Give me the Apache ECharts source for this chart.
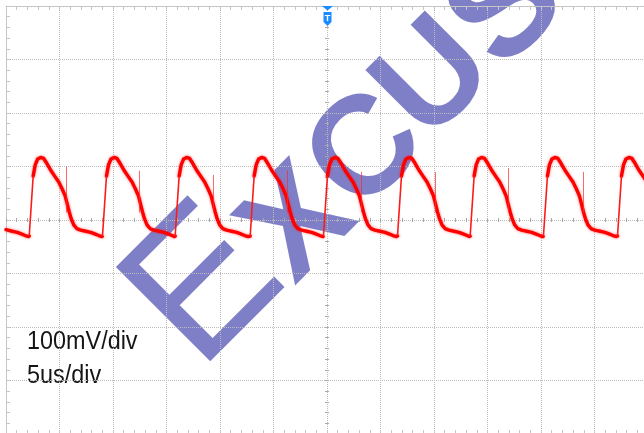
<!DOCTYPE html>
<html>
<head>
<meta charset="utf-8">
<style>
html,body{margin:0;padding:0;background:#fff;}
#chart{width:644px;height:433px;}
</style>
<script src="https://cdn.jsdelivr.net/npm/echarts@6.0.0/dist/echarts.min.js"></script>
</head>
<body>
<div id="chart"></div>
<script>
// Scope capture: CH1, 100 mV/div, 5 us/div, 12 x 8 divisions
const timeRangeUs = [0, 60];
const timeDivUs = 5;
const voltRangeMv = [-400, 400];
const voltDivMv = 100;
const triggerUs = 30;

// CH1 trace, one row per cycle
const traceUs = [
  0.00, 0.58, 1.05, 1.42, 1.80, 2.12,
  2.17, 2.54, 2.73, 2.96, 3.24, 3.52, 3.81, 4.18, 4.55, 4.93, 5.25, 5.53, 5.72, 5.91, 6.10, 6.33, 6.61, 6.98, 7.45, 7.92, 8.29, 8.67, 8.99,
  9.02, 9.39, 9.58, 9.81, 10.09, 10.37, 10.66, 11.03, 11.40, 11.78, 12.10, 12.38, 12.57, 12.76, 12.95, 13.18, 13.46, 13.83, 14.30, 14.77, 15.14, 15.52, 15.74,
  15.81, 16.18, 16.37, 16.60, 16.88, 17.16, 17.45, 17.82, 18.19, 18.57, 18.89, 19.17, 19.36, 19.55, 19.74, 19.97, 20.25, 20.62, 21.09, 21.56, 21.93, 22.31, 22.63,
  22.82, 23.19, 23.38, 23.61, 23.89, 24.17, 24.46, 24.83, 25.20, 25.58, 25.90, 26.18, 26.37, 26.56, 26.75, 26.98, 27.26, 27.63, 28.10, 28.57, 28.94, 29.32, 29.64,
  29.67, 30.04, 30.23, 30.46, 30.74, 31.02, 31.31, 31.68, 32.05, 32.43, 32.75, 33.03, 33.22, 33.41, 33.60, 33.83, 34.11, 34.48, 34.95, 35.42, 35.79, 36.17, 36.49,
  36.59, 36.96, 37.15, 37.38, 37.66, 37.94, 38.23, 38.60, 38.97, 39.35, 39.67, 39.95, 40.14, 40.33, 40.52, 40.75, 41.03, 41.40, 41.87, 42.34, 42.71, 43.09, 43.30,
  43.38, 43.75, 43.94, 44.17, 44.45, 44.73, 45.02, 45.39, 45.76, 46.14, 46.46, 46.74, 46.93, 47.12, 47.31, 47.54, 47.82, 48.19, 48.66, 49.13, 49.50, 49.88, 50.20,
  50.23, 50.60, 50.79, 51.02, 51.30, 51.58, 51.87, 52.24, 52.61, 52.99, 53.31, 53.59, 53.78, 53.97, 54.16, 54.39, 54.67, 55.04, 55.51, 55.98, 56.35, 56.73, 57.05,
  57.15, 57.52, 57.71, 57.94, 58.22, 58.50, 58.79, 59.16, 59.53, 59.91, 60.23
];
const traceMv = [
  -18, -21, -23, -26, -29, -31,
  -30, 82, 103, 114, 117, 115, 106, 93, 82, 71, 58, 45, 30, 15, 2, -9, -16, -19, -21, -23, -26, -29, -31,
  -30, 82, 103, 114, 117, 115, 106, 93, 82, 71, 58, 45, 30, 15, 2, -9, -16, -19, -21, -23, -26, -29, -31,
  -30, 82, 103, 114, 117, 115, 106, 93, 82, 71, 58, 45, 30, 15, 2, -9, -16, -19, -21, -23, -26, -29, -31,
  -30, 82, 103, 114, 117, 115, 106, 93, 82, 71, 58, 45, 30, 15, 2, -9, -16, -19, -21, -23, -26, -29, -31,
  -30, 82, 103, 114, 117, 115, 106, 93, 82, 71, 58, 45, 30, 15, 2, -9, -16, -19, -21, -23, -26, -29, -31,
  -30, 82, 103, 114, 117, 115, 106, 93, 82, 71, 58, 45, 30, 15, 2, -9, -16, -19, -21, -23, -26, -29, -31,
  -30, 82, 103, 114, 117, 115, 106, 93, 82, 71, 58, 45, 30, 15, 2, -9, -16, -19, -21, -23, -26, -29, -31,
  -30, 82, 103, 114, 117, 115, 106, 93, 82, 71, 58, 45, 30, 15, 2, -9, -16, -19, -21, -23, -26, -29, -31,
  -30, 82, 103, 114, 117, 115, 106, 93, 82, 71, 58
];

// Switching spikes on the falling slope
const spikeUs = [5.58, 12.46, 19.37, 26.23, 33.15, 40.09, 46.94, 53.88];
const spikeTopMv = [100, 92, 84, 93, 90, 90, 97, 90];
const spikeLowMv = [14, 14, 16, 14, 15, 14, 15, 14];

const scaleLabels = ['100mV/div', '5us/div'];
const watermarkLetters = ['E', 'X', 'C', 'U', 'S'];

const chart = echarts.init(document.getElementById('chart'), null, { renderer: 'canvas' });

const gridRect = { left: 6, top: 6, width: 642, height: 428, show: false, containLabel: false, outerBoundsMode: 'none' };
const borderColor = '#c6c6c6';
const gridLineColor = '#bdbdbd';
const centerTickColor = '#a9a9a9';

function borderAxis(gridIndex, position, withSplit, range, step) {
  return {
    type: 'value', gridIndex, position, min: range[0], max: range[1], interval: step,
    axisLine: { show: true, onZero: false, lineStyle: { color: borderColor, width: 1 } },
    axisTick: { show: true, inside: true, length: 4, lineStyle: { color: borderColor } },
    minorTick: { show: true, splitNumber: 5, length: 4, lineStyle: { color: borderColor } },
    axisLabel: { show: false },
    splitLine: { show: withSplit, lineStyle: { type: 'dotted', color: gridLineColor, width: 1 } },
    minorSplitLine: { show: false }
  };
}
function centerAxis(gridIndex, range, step, inside) {
  return {
    type: 'value', gridIndex, min: range[0], max: range[1], interval: step,
    axisLine: { show: false, onZero: true },
    axisTick: { show: true, inside, length: 2, lineStyle: { color: centerTickColor } },
    minorTick: { show: true, splitNumber: 5, length: 2, lineStyle: { color: centerTickColor } },
    axisLabel: { show: false },
    splitLine: { show: false }
  };
}

const halfSpan = (timeRangeUs[1] - timeRangeUs[0]) / 2;
const centeredTime = [-halfSpan, halfSpan];

// Split the trace: fast rising edges are drawn thin, everything else with the wide persistence stroke
const bodyData = [];
const edgeData = [];
for (let i = 0; i < traceUs.length; i++) {
  const pt = [traceUs[i], traceMv[i]];
  const isEdgeStart = i + 1 < traceUs.length && traceMv[i + 1] - traceMv[i] > 80;
  bodyData.push(pt);
  if (isEdgeStart) {
    const next = [traceUs[i + 1], traceMv[i + 1]];
    bodyData.push([(pt[0] + next[0]) / 2, null]);
    edgeData.push(pt, next, [(pt[0] + next[0]) / 2 + 0.01, null]);
  }
}
const spikeData = spikeUs.map((t, i) => [t, spikeLowMv[i], spikeTopMv[i]]);

// watermark: a full-size initial followed by small capitals, laid on a 45 degree line
const markCentres = [[207, 289], [300, 226], [368, 153], [436, 81], [508, 10]];
const markFonts = [
  '194px "Liberation Sans"',
  'bold 140px "Liberation Sans"',
  'bold 140px "Liberation Sans"',
  'bold 140px "Liberation Sans"',
  'bold 146px "Liberation Sans"'
];

const option = {
  backgroundColor: '#ffffff',
  animation: false,
  grid: [Object.assign({}, gridRect), Object.assign({}, gridRect), Object.assign({}, gridRect)],
  xAxis: [
    borderAxis(0, 'top', true, timeRangeUs, timeDivUs),
    borderAxis(0, 'bottom', false, timeRangeUs, timeDivUs),
    centerAxis(1, centeredTime, timeDivUs, true),
    centerAxis(2, centeredTime, timeDivUs, false)
  ],
  yAxis: [
    borderAxis(0, 'left', true, voltRangeMv, voltDivMv),
    borderAxis(0, 'right', false, voltRangeMv, voltDivMv),
    centerAxis(1, voltRangeMv, voltDivMv, true),
    centerAxis(2, voltRangeMv, voltDivMv, false)
  ],
  series: [
    {
      type: 'line', xAxisIndex: 0, yAxisIndex: 0, data: bodyData, connectNulls: false,
      showSymbol: false, symbol: 'none', clip: true, z: 3,
      lineStyle: { color: '#ff0000', width: 3.4, cap: 'round', join: 'round', shadowColor: 'rgba(255,0,0,0.5)', shadowBlur: 3 }
    },
    {
      type: 'line', xAxisIndex: 0, yAxisIndex: 0, data: edgeData, connectNulls: false,
      showSymbol: false, symbol: 'none', clip: true, z: 3,
      lineStyle: { color: '#ff1a1a', width: 1.6 }
    },
    {
      type: 'custom', xAxisIndex: 0, yAxisIndex: 0, data: spikeData, z: 4,
      renderItem: function (params, api) {
        const a = api.coord([api.value(0), api.value(1)]);
        const b = api.coord([api.value(0), api.value(2)]);
        return {
          type: 'line',
          shape: { x1: Math.round(a[0]) + 0.5, y1: a[1], x2: Math.round(a[0]) + 0.5, y2: b[1] },
          style: { stroke: 'rgba(255,40,40,0.7)', lineWidth: 1 }
        };
      }
    },
    {
      type: 'custom', xAxisIndex: 0, yAxisIndex: 0, data: [[triggerUs, voltRangeMv[1]]], z: 5, clip: false,
      renderItem: function (params, api) {
        const p = api.coord([api.value(0), api.value(1)]);
        const cx = p[0] + 0.5, top = p[1];
        return {
          type: 'group',
          children: [
            { type: 'polygon', shape: { points: [[cx - 5.5, top], [cx + 5.5, top], [cx, top + 4.5]] }, style: { fill: '#1a8cff' } },
            { type: 'polygon', shape: { points: [[cx - 4, top + 6], [cx + 4, top + 6], [cx + 4, top + 16], [cx, top + 20], [cx - 4, top + 16]] }, style: { fill: '#1a8cff' } },
            { type: 'text', style: { text: 'T', x: cx, y: top + 12.5, align: 'center', verticalAlign: 'middle', font: 'bold 9px "Liberation Sans"', fill: '#ffffff' } }
          ]
        };
      }
    }
  ],
  graphic: [
    {
      type: 'group', x: 0, y: 0, z: 50,
      children: scaleLabels.map((txt, i) => ({
        type: 'text', x: 27, y: 329 + i * 34, scaleX: 0.9,
        style: { text: txt, font: '26px "Liberation Sans"', fill: '#151515', verticalAlign: 'top' }
      }))
    },
    {
      type: 'group', x: 0, y: 0, z: 100,
      children: watermarkLetters.map((ch, i) => ({
        type: 'text', x: markCentres[i][0], y: markCentres[i][1], rotation: Math.PI / 4,
        style: { text: ch, font: markFonts[i], fill: 'rgba(0,0,145,0.5)', align: 'center', verticalAlign: 'middle' }
      }))
    }
  ]
};

chart.setOption(option);
</script>
</body>
</html>
